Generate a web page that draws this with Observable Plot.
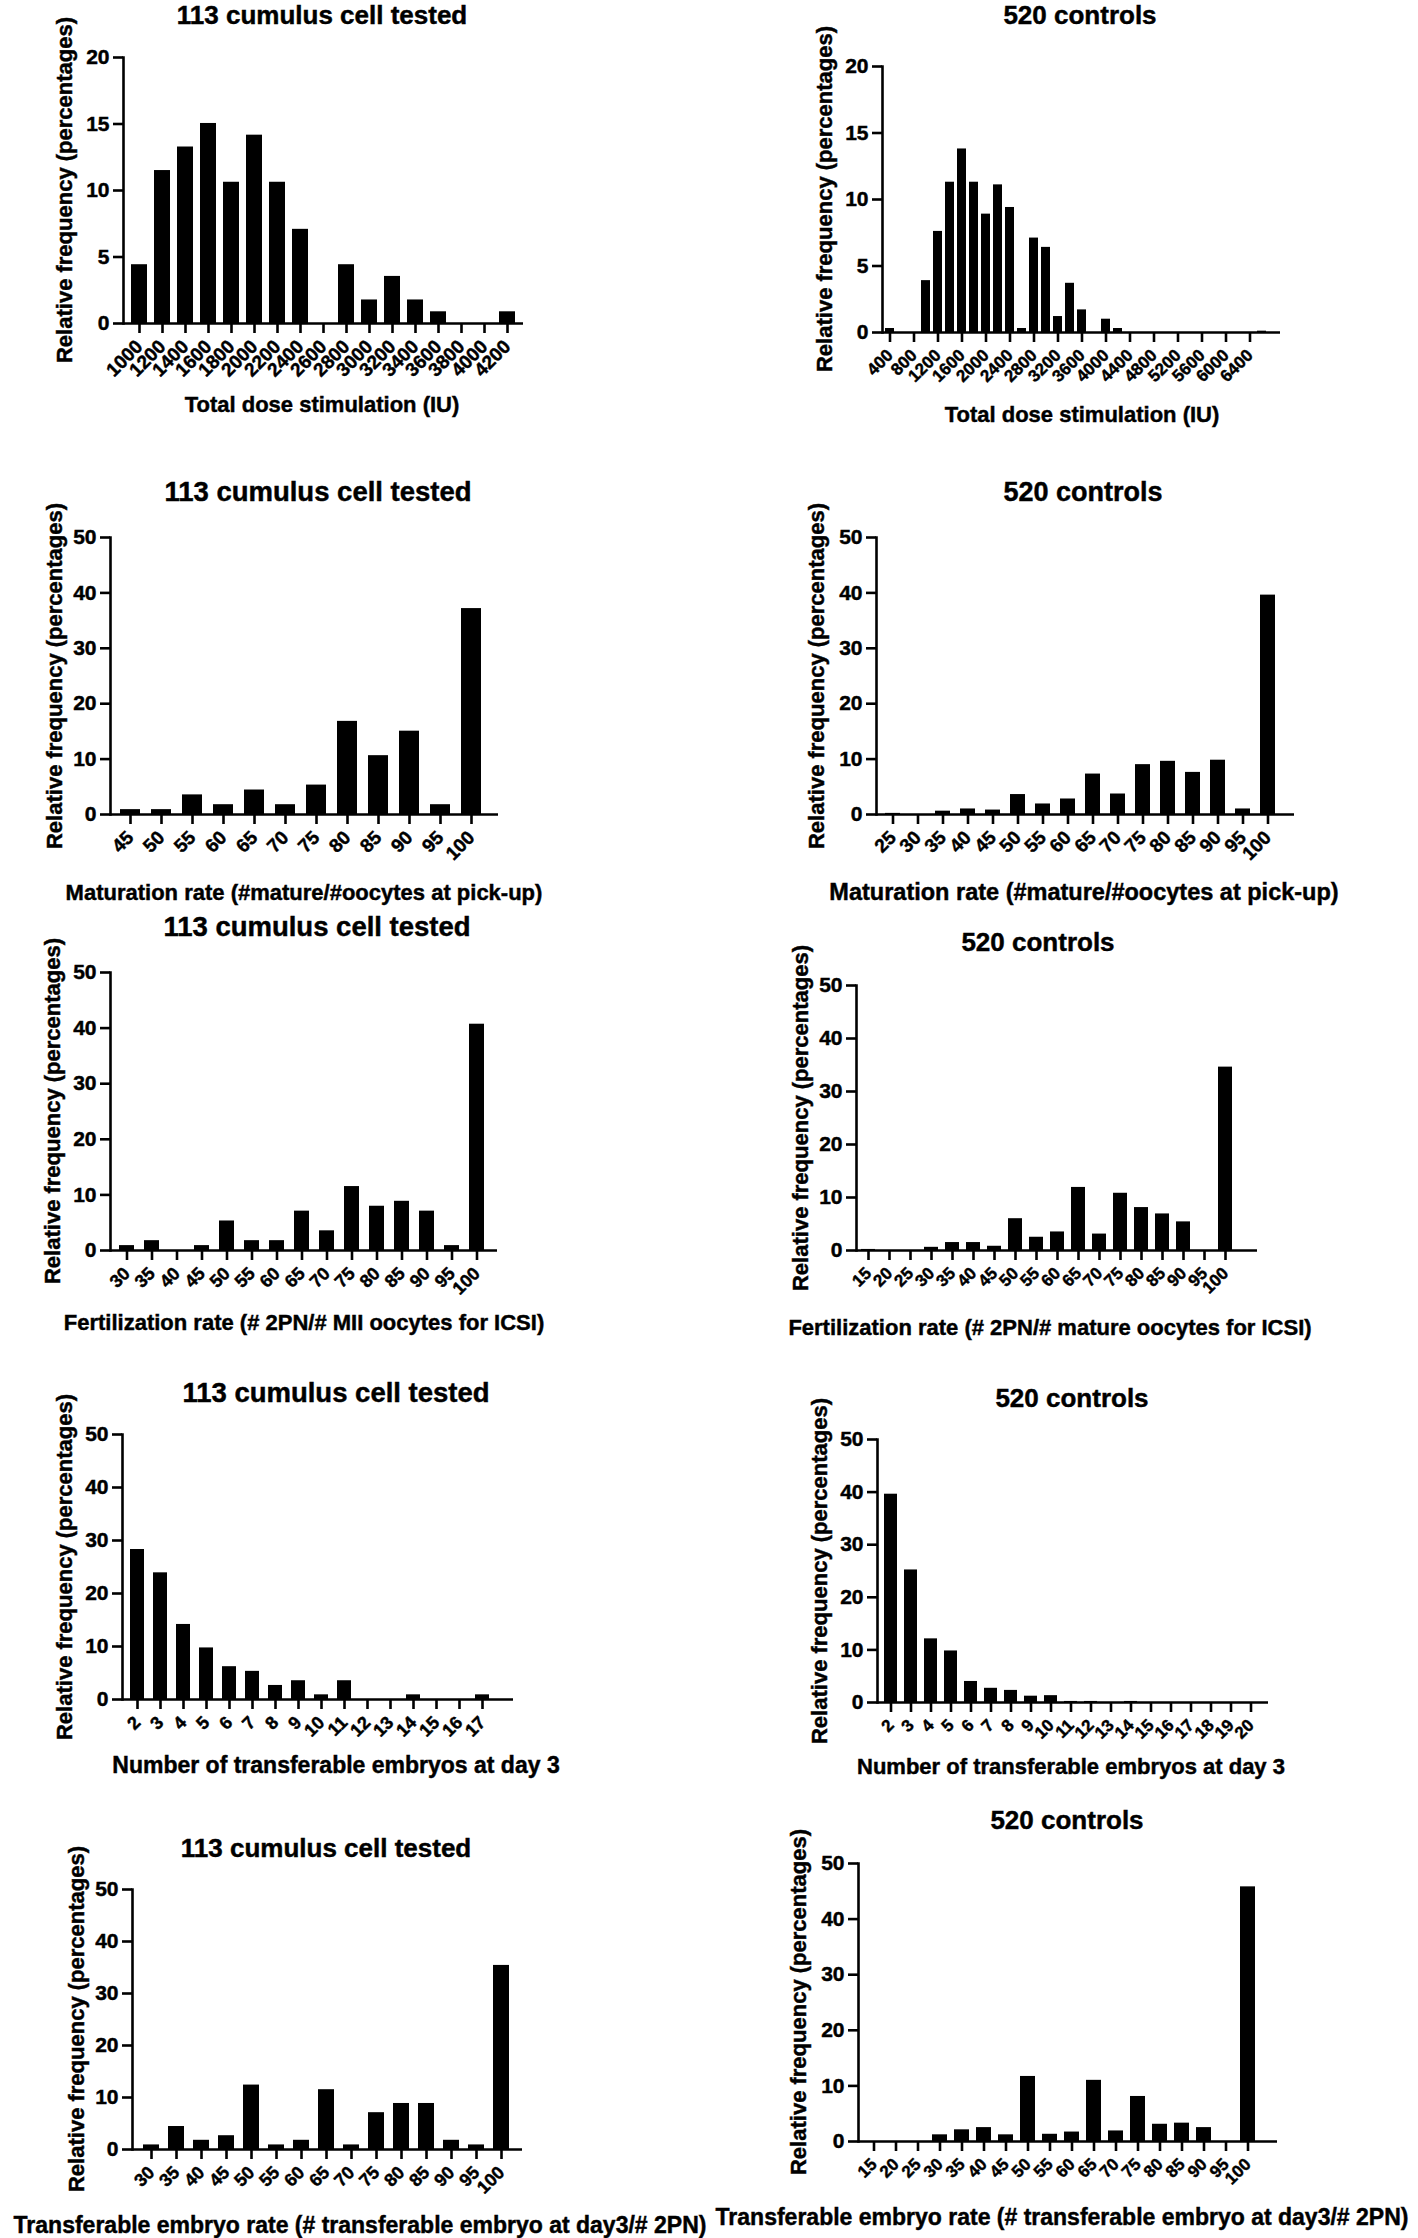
<!DOCTYPE html>
<html><head><meta charset="utf-8">
<script src="https://cdn.jsdelivr.net/npm/d3@7"></script>
<script src="https://cdn.jsdelivr.net/npm/@observablehq/plot@0.6"></script>
<style>
body{margin:0;background:#fff;}
#root{position:relative;width:1418px;height:2238px;overflow:hidden;font-family:"Liberation Sans",Arial,sans-serif;font-weight:bold;color:#000;}
.panel{position:absolute;transform-origin:0 0;}
.panel svg{position:absolute;left:0;top:0;overflow:visible;}
.panel svg text{stroke:#000;stroke-width:0.45px;}
.ttl,.xl,.yl{-webkit-text-stroke:0.45px #000;}
.ttl,.xl{position:absolute;white-space:nowrap;text-align:center;width:900px;line-height:1;}
.yl{position:absolute;white-space:nowrap;line-height:1;transform:translate(-50%,-50%) rotate(-90deg);}
</style></head><body><div id="root"></div>
<script>
// ---------- data ----------
const caseTitle = "113 cumulus cell tested";
const ctrlTitle = "520 controls";
const yLabel = "Relative frequency (percentages)";

const doseCatsCase = ["1000","1200","1400","1600","1800","2000","2200","2400","2600","2800","3000","3200","3400","3600","3800","4000","4200"];
const doseCase = [4.42,11.5,13.27,15.04,10.62,14.16,10.62,7.08,0,4.42,1.77,3.54,1.77,0.88,0,0,0.88];
const doseCatsCtrl = ["400","600","800","1000","1200","1400","1600","1800","2000","2200","2400","2600","2800","3000","3200","3400","3600","3800","4000","4200","4400","4600","4800","5000","5200","5400","5600","5800","6000","6200","6400","6600"];
const doseCtrl = [0.3,0,0,3.9,7.6,11.3,13.8,11.3,8.9,11.1,9.4,0.3,7.1,6.4,1.2,3.7,1.7,0,1.0,0.3,0,0,0,0,0,0,0,0,0,0,0,0.1];
const doseTicksCtrl = ["400","800","1200","1600","2000","2400","2800","3200","3600","4000","4400","4800","5200","5600","6000","6400"];

const matCatsCase = ["45","50","55","60","65","70","75","80","85","90","95","100"];
const matCase = [0.88,0.88,3.54,1.77,4.42,1.77,5.31,16.81,10.62,15.04,1.77,37.17];
const matCatsCtrl = ["25","30","35","40","45","50","55","60","65","70","75","80","85","90","95","100"];
const matCtrl = [0.2,0,0.6,1.0,0.8,3.6,1.9,2.8,7.3,3.7,9.0,9.6,7.6,9.8,1.0,39.6];

const fertCatsCase = ["30","35","40","45","50","55","60","65","70","75","80","85","90","95","100"];
const fertCase = [0.88,1.77,0,0.88,5.31,1.77,1.77,7.08,3.54,11.5,7.96,8.85,7.08,0.88,40.7];
const fertCatsCtrl = ["15","20","25","30","35","40","45","50","55","60","65","70","75","80","85","90","95","100"];
const fertCtrl = [0.2,0,0,0.6,1.5,1.5,0.8,6.0,2.5,3.5,11.9,3.1,10.8,8.1,6.9,5.4,0,34.6];

const embCatsCase = ["2","3","4","5","6","7","8","9","10","11","12","13","14","15","16","17"];
const embCase = [28.3,23.9,14.16,9.73,6.19,5.31,2.65,3.54,0.88,3.54,0,0,0.88,0,0,0.88];
const embCatsCtrl = ["2","3","4","5","6","7","8","9","10","11","12","13","14","15","16","17","18","19","20"];
const embCtrl = [39.6,25.2,12.1,9.8,4.0,2.7,2.3,1.2,1.3,0.2,0.2,0,0.2,0,0,0,0,0,0];

const trCatsCase = ["30","35","40","45","50","55","60","65","70","75","80","85","90","95","100"];
const trCase = [0.88,4.42,1.77,2.65,12.39,0.88,1.77,11.5,0.88,7.08,8.85,8.85,1.77,0.88,35.4];
const trCatsCtrl = ["15","20","25","30","35","40","45","50","55","60","65","70","75","80","85","90","95","100"];
const trCtrl = [0,0,0,1.2,2.1,2.5,1.2,11.7,1.3,1.7,11.0,1.9,8.1,3.1,3.3,2.5,0,45.8];

const yTicks20 = [0,5,10,15,20];
const yTicks50 = [0,10,20,30,40,50];

const xlDose = "Total dose stimulation (IU)";
const xlMat = "Maturation rate (#mature/#oocytes at pick-up)";
const xlFertCase = "Fertilization rate (# 2PN/# MII oocytes for ICSI)";
const xlFertCtrl = "Fertilization rate (# 2PN/# mature oocytes for ICSI)";
const xlEmb = "Number of transferable embryos at day 3";
const xlTr = "Transferable embryo rate (# transferable embryo at day3/# 2PN)";

// ---------- layout ----------
const panels = [
  {title: caseTitle, cats: doseCatsCase, vals: doseCase, ticks: doseCatsCase, yMax: 20, yTicks: yTicks20, xlabel: xlDose,
   x0:123, x1:523, yTop:57, yBottom:323, ft:139, lt:507, pad:0.29, xfs:19, xlfs:22, tfs:26, tcx:322, tcy:15, xcx:322, xcy:405, ylOff:58},
  {title: ctrlTitle, cats: doseCatsCtrl, vals: doseCtrl, ticks: doseTicksCtrl, yMax: 20, yTicks: yTicks20, xlabel: xlDose,
   x0:882, x1:1280, yTop:66, yBottom:332, ft:890, lt:1272, pad:0.25, xfs:17, xlfs:22, tfs:26, tcx:1080, tcy:15, xcx:1082, xcy:415, ylOff:57},
  {title: caseTitle, cats: matCatsCase, vals: matCase, ticks: matCatsCase, yMax: 50, yTicks: yTicks50, xlabel: xlMat,
   x0:110, x1:498, yTop:537, yBottom:814, ft:130, lt:476, pad:0.37, xfs:19, xlfs:22, tfs:27.5, tcx:318, tcy:492, xcx:304, xcy:893, ylOff:55},
  {title: ctrlTitle, cats: matCatsCtrl, vals: matCtrl, ticks: matCatsCtrl, yMax: 50, yTicks: yTicks50, xlabel: xlMat,
   x0:876, x1:1294, yTop:537, yBottom:814, ft:893, lt:1275, pad:0.41, xfs:19, xlfs:23.5, tfs:27, tcx:1083, tcy:492, xcx:1084, xcy:893, ylOff:59},
  {title: caseTitle, cats: fertCatsCase, vals: fertCase, ticks: fertCatsCase, yMax: 50, yTicks: yTicks50, xlabel: xlFertCase,
   x0:110, x1:497, yTop:972, yBottom:1250, ft:127, lt:478, pad:0.4, xfs:18, xlfs:22, tfs:27.5, tcx:317, tcy:927, xcx:304, xcy:1323, ylOff:57},
  {title: ctrlTitle, cats: fertCatsCtrl, vals: fertCtrl, ticks: fertCatsCtrl, yMax: 50, yTicks: yTicks50, xlabel: xlFertCtrl,
   x0:856, x1:1257, yTop:985, yBottom:1250, ft:869, lt:1239, pad:0.31, xfs:17, xlfs:22, tfs:26, tcx:1038, tcy:942, xcx:1050, xcy:1328, ylOff:55},
  {title: caseTitle, cats: embCatsCase, vals: embCase, ticks: embCatsCase, yMax: 50, yTicks: yTicks50, xlabel: xlEmb,
   x0:122, x1:513, yTop:1434, yBottom:1699, ft:137, lt:496, pad:0.39, xfs:18, xlfs:23, tfs:27.5, tcx:336, tcy:1393, xcx:336, xcy:1765, ylOff:57},
  {title: ctrlTitle, cats: embCatsCtrl, vals: embCtrl, ticks: embCatsCtrl, yMax: 50, yTicks: yTicks50, xlabel: xlEmb,
   x0:877, x1:1268, yTop:1439, yBottom:1702, ft:891, lt:1253, pad:0.35, xfs:17, xlfs:22, tfs:26, tcx:1072, tcy:1398, xcx:1071, xcy:1767, ylOff:57},
  {title: caseTitle, cats: trCatsCase, vals: trCase, ticks: trCatsCase, yMax: 50, yTicks: yTicks50, xlabel: xlTr,
   x0:132, x1:522, yTop:1889, yBottom:2149, ft:151, lt:506, pad:0.35, xfs:18, xlfs:23, tfs:26, tcx:326, tcy:1848, xcx:360, xcy:2225, ylOff:55},
  {title: ctrlTitle, cats: trCatsCtrl, vals: trCtrl, ticks: trCatsCtrl, yMax: 50, yTicks: yTicks50, xlabel: xlTr,
   x0:858, x1:1277, yTop:1863, yBottom:2141, ft:874, lt:1262, pad:0.3, xfs:17, xlfs:23, tfs:26, tcx:1067, tcy:1820, xcx:1062, xcy:2217, ylOff:59}
];

const root = document.getElementById("root");
const FONT = '"Liberation Sans", Arial, sans-serif';

for (const cfg of panels) {
  const mL = 100, mT = 14, mB = 80, mR = 14;
  const L = cfg.x0 - mL;
  const T = cfg.yTop - mT;
  const loc = px => px - L;
  const frameW = cfg.x1 - cfg.x0;
  const width = mL + frameW + mR;
  const height = mT + (cfg.yBottom - cfg.yTop) + mB;
  const n = cfg.cats.length;
  const ft = loc(cfg.ft), lt = loc(cfg.lt);
  const step = (lt - ft) / (n - 1);
  const p = cfg.pad;
  const range = [ft - step * (1 - p) / 2, lt + step * (1 - p) / 2];
  const data = cfg.cats.map((c, i) => ({c, v: cfg.vals[i]}));

  const div = document.createElement("div");
  div.className = "panel";
  div.style.left = L + "px";
  div.style.top = T + "px";
  div.style.width = width + "px";
  div.style.height = height + "px";

  const chart = Plot.plot({
    width, height,
    marginLeft: mL, marginRight: mR, marginTop: mT, marginBottom: mB,
    style: {fontFamily: FONT, fontWeight: "bold", color: "#000", background: "transparent", overflow: "visible"},
    x: {type: "band", domain: cfg.cats, range, paddingInner: p, paddingOuter: 0, align: 0, label: null},
    y: {domain: [0, cfg.yMax], label: null},
    marks: [
      Plot.barY(data, {x: "c", y: "v", fill: "#000"}),
      Plot.ruleY([0], {stroke: "#000", strokeWidth: 2.6}),
      Plot.frame({anchor: "left", stroke: "#000", strokeWidth: 2.6}),
      Plot.axisY({ticks: cfg.yTicks, tickSize: 10, tickPadding: 4, strokeWidth: 2.6, fontSize: 21, label: null, tickFormat: d => String(d)}),
      Plot.axisX({ticks: cfg.ticks, tickSize: 10, tickPadding: 10, tickRotate: -45, strokeWidth: 2.6, fontSize: cfg.xfs, label: null})
    ]
  });
  div.appendChild(chart);

  const t = document.createElement("div");
  t.className = "ttl";
  t.textContent = cfg.title;
  t.style.fontSize = cfg.tfs + "px";
  t.style.left = (loc(cfg.tcx) - 450) + "px";
  t.style.top = (cfg.tcy - T - cfg.tfs / 2) + "px";
  div.appendChild(t);

  const xl = document.createElement("div");
  xl.className = "xl";
  xl.textContent = cfg.xlabel;
  xl.style.fontSize = cfg.xlfs + "px";
  xl.style.left = (loc(cfg.xcx) - 450) + "px";
  xl.style.top = (cfg.xcy - T - cfg.xlfs / 2) + "px";
  div.appendChild(xl);

  const yl = document.createElement("div");
  yl.className = "yl";
  yl.textContent = yLabel;
  yl.style.fontSize = "22px";
  yl.style.left = (mL - cfg.ylOff) + "px";
  yl.style.top = (mT + (cfg.yBottom - cfg.yTop) / 2) + "px";
  div.appendChild(yl);

  root.appendChild(div);
}
</script></body></html>
